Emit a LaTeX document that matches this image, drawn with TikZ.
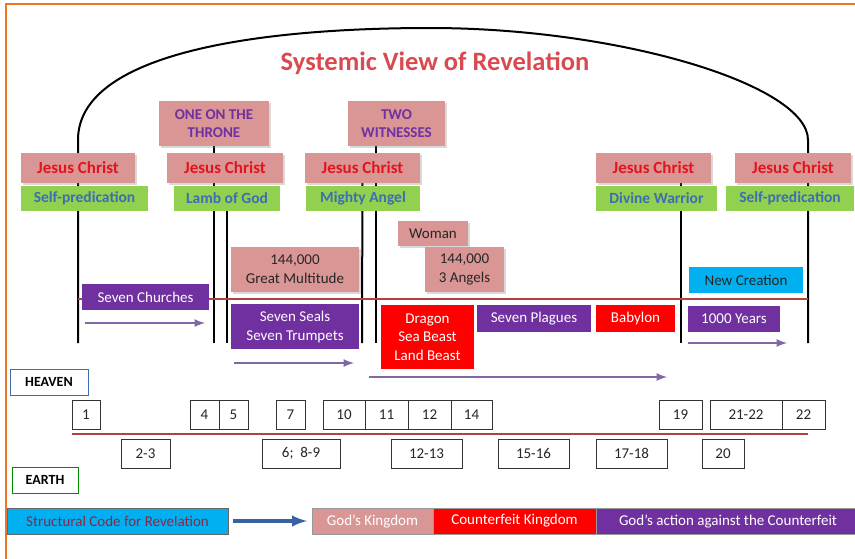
\documentclass[tikz,border=0pt]{standalone}
\usepackage{fontspec}
\setmainfont{Carlito}
\usetikzlibrary{shadows, backgrounds}

\definecolor{boxpink}{HTML}{D99694}
\definecolor{christred}{HTML}{E3141E}
\definecolor{rolegreen}{HTML}{92D050}
\definecolor{roleblue}{HTML}{3C6EB4}
\definecolor{evilpurple}{HTML}{7030A0}
\definecolor{skyblue}{HTML}{00B0F0}
\definecolor{arrowpurple}{HTML}{8068A4}
\definecolor{linered}{HTML}{B0433F}
\definecolor{framecolor}{HTML}{EE7623}
\definecolor{titlered}{HTML}{D94A50}
\definecolor{codered}{HTML}{8E2442}
\definecolor{codeblue}{HTML}{3B62A0}
\definecolor{darktext}{HTML}{262626}

\tikzset{
	box/.style = {inner sep = 0pt, align = center, font = \fontsize{15}{19}\selectfont},
	pinkbox/.style = {box, fill = boxpink, text = darktext,
		drop shadow = {shadow xshift = 2pt, shadow yshift = -2pt, opacity = .3}},
	christ/.style = {pinkbox, text = christred, minimum height = 30,
		font = \bfseries\fontsize{17}{19}\selectfont},
	role/.style = {box, fill = rolegreen, text = roleblue, minimum height = 25,
		font = \bfseries\fontsize{15.5}{17}\selectfont},
	witness/.style = {pinkbox, text = evilpurple, minimum width = 104, minimum height = 45,
		font = \bfseries\fontsize{15}{18}\selectfont},
	purplebox/.style = {box, fill = evilpurple, text = white},
	redbox/.style = {box, fill = red, text = white},
	chapter/.style = {box, draw = black!80, line width = .6pt, fill = white, text = darktext,
		minimum height = 29},
	realm/.style = {box, line width = 1pt, fill = white, minimum height = 26,
		font = \bfseries\fontsize{14}{16}\selectfont},
	legend/.style = {box, draw = black!40, line width = .6pt, minimum height = 26},
	flow/.style = {->, line width = 2.5pt, arrowpurple},
	pillar/.style = {line width = 2pt, black},
	timeline/.style = {line width = 2.5pt, linered}
}

\begin{document}
\begin{tikzpicture}[> = latex, x = 1pt, y = -1pt]

	\useasboundingbox (0, 0) rectangle (855, 558);
	\clip (0, 0) rectangle (855, 558);
	\draw [framecolor, line width = 2.5pt] (6, 4) rectangle (870, 575);

	\node [text = titlered, font = \bfseries\fontsize{26.5}{30}\selectfont] (title) at (435, 63)
		{Systemic View of Revelation};

	% Jesus Christ and his roles
	\node [christ, minimum width = 114] (jc1) at (78, 168) {Jesus Christ};
	\node [christ, minimum width = 116] (jc2) at (225, 168) {Jesus Christ};
	\node [christ, minimum width = 115] (jc3) at (362.5, 168) {Jesus Christ};
	\node [christ, minimum width = 115] (jc4) at (653.5, 168) {Jesus Christ};
	\node [christ, minimum width = 116] (jc5) at (793, 168) {Jesus Christ};

	\node [role, minimum width = 127] (role1) at (84.5, 198.5) {Self-predication};
	\node [role, minimum width = 106] (role2) at (227, 198.5) {Lamb of God};
	\node [role, minimum width = 114] (role3) at (363, 198.5) {Mighty Angel};
	\node [role, minimum width = 121] (role4) at (656.5, 198.5) {Divine Warrior};
	\node [role, minimum width = 128] (role5) at (790, 198.5) {Self-predication};

	\node [witness, minimum width = 110] (throne) at (214, 123.5) {ONE ON THE\\THRONE};
	\node [witness, minimum width = 97] (witnesses) at (396.5, 123.5) {TWO\\WITNESSES};

	% above the line
	\node [pinkbox, minimum width = 128, minimum height = 45] (multitude) at (295, 269.5)
		{144,000\\Great Multitude};
	\node [pinkbox, minimum width = 70, minimum height = 25] (woman) at (433, 233.5) {Woman};
	\node [pinkbox, minimum width = 79, minimum height = 45] (angels) at (464.5, 269.5)
		{144,000\\3 Angels};
	\node [box, fill = skyblue, text = darktext, minimum width = 114, minimum height = 26]
		(creation) at (746, 280) {New Creation};

	% below the line
	\node [purplebox, minimum width = 127, minimum height = 26] (churches) at (145.5, 297)
		{Seven Churches};
	\node [purplebox, minimum width = 128, minimum height = 45] (seals) at (295, 326.5)
		{Seven Seals\\Seven Trumpets};
	\node [redbox, minimum width = 93, minimum height = 64, font = \fontsize{15}{18.5}\selectfont]
		(beasts) at (427.5, 337) {Dragon\\Sea Beast\\Land Beast};
	\node [purplebox, minimum width = 114, minimum height = 27] (plagues) at (534, 318.5)
		{Seven Plagues};
	\node [redbox, minimum width = 79, minimum height = 27] (babylon) at (635.5, 318.5) {Babylon};
	\node [purplebox, minimum width = 92, minimum height = 26] (millennium) at (734, 319)
		{1000 Years};

	\node [realm, draw = roleblue, minimum width = 78] (heaven) at (49, 382) {HEAVEN};
	\node [realm, draw = green!55!black, minimum width = 66] (earth) at (45, 480) {EARTH};

	% chapters
	\node [chapter, minimum width = 28] (ch1) at (86, 414.5) {1};
	\node [chapter, minimum width = 29] (ch4) at (204.5, 414.5) {4};
	\node [chapter, minimum width = 29] (ch5) at (233.5, 414.5) {5};
	\node [chapter, minimum width = 29] (ch7) at (290.5, 414.5) {7};
	\node [chapter, minimum width = 42] (ch10) at (344, 414.5) {10};
	\node [chapter, minimum width = 43] (ch11) at (386.5, 414.5) {11};
	\node [chapter, minimum width = 43] (ch12) at (429.5, 414.5) {12};
	\node [chapter, minimum width = 41] (ch14) at (471.5, 414.5) {14};
	\node [chapter, minimum width = 43] (ch19) at (680.5, 414.5) {19};
	\node [chapter, minimum width = 72] (ch21) at (746, 414.5) {21-22};
	\node [chapter, minimum width = 43] (ch22) at (803.5, 414.5) {22};

	\node [chapter, minimum width = 49] (ch2) at (145.5, 453.5) {2-3};
	\node [chapter, minimum width = 78] (ch6) at (301, 453.5) {6;\ \ 8-9};
	\node [chapter, minimum width = 71] (ch12b) at (426.5, 453.5) {12-13};
	\node [chapter, minimum width = 71] (ch15) at (533.5, 453.5) {15-16};
	\node [chapter, minimum width = 71] (ch17) at (631.5, 453.5) {17-18};
	\node [chapter, minimum width = 42] (ch20) at (723, 453.5) {20};

	% structural code
	\node [legend, fill = skyblue, draw = black!60, text = codered, minimum width = 221]
		(code) at (117.5, 521) {Structural Code for Revelation};
	\node [legend, fill = boxpink, text = white, minimum width = 121] (kingdom) at (372.5, 521)
		{God’s Kingdom};
	\node [legend, fill = red, text = white, minimum width = 163] (counterfeit) at (514.5, 521)
		{Counterfeit Kingdom};
	\node [legend, fill = evilpurple, text = white, minimum width = 264] (action) at (728, 521)
		{God’s action against the Counterfeit};
	\draw [->, line width = 4pt, codeblue] (code.east) ++(5, 0) coordinate (codeout)
		-- (kingdom.west -| 307, 0) coordinate (codein);

	\begin{scope}[on background layer]

		\coordinate (foot1) at (78, 343);
		\coordinate (foot7) at (808, 343);
		\draw [pillar] (foot1) -- (78, 140) .. controls (78, 55) and (250, 28) .. (430, 28)
			.. controls (620, 28) and (808, 85) .. (808, 140) -- (foot7);

		\draw [pillar] (throne.south) -- (214, 343) coordinate (foot2);
		\draw [pillar] (role2.south) -- (227, 343) coordinate (foot3);
		\draw [pillar] (jc3.center) -- (362, 343) coordinate (foot4);
		\draw [pillar] (376, 146) coordinate (top5) -- (376, 343) coordinate (foot5);
		\draw [pillar] (681, 168) coordinate (top6) -- (681, 343) coordinate (foot6);

		\draw [timeline] (78, 299) coordinate (line1) -- (808, 299) coordinate (line2);
		\draw [timeline] (72, 434) coordinate (chline1) -- (808, 434) coordinate (chline2);

	\end{scope}

	% movement
	\coordinate (s1) at (85, 323);  \coordinate (e1) at (205, 323);
	\coordinate (s2) at (234, 363); \coordinate (e2) at (354, 363);
	\coordinate (s3) at (369, 377); \coordinate (e3) at (667, 377);
	\coordinate (s4) at (688, 343); \coordinate (e4) at (787, 343);
	\foreach \i in {1, ..., 4}
		\draw [flow] (s\i) -- (e\i);

\end{tikzpicture}
\end{document}
